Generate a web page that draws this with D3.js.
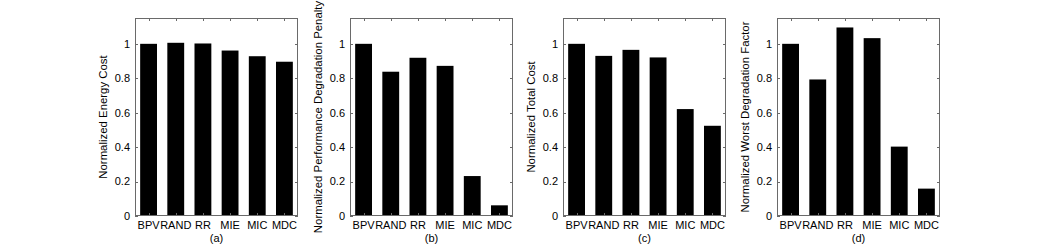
<!DOCTYPE html>
<html>
<head>
<meta charset="utf-8">
<script src="https://cdn.jsdelivr.net/npm/d3@7"></script>
<style>
    body { margin: 0; background: #fff; }
    svg text { font-family: "Liberation Sans", Arial, Helvetica, sans-serif; fill: #000; }
</style>
</head>
<body>
<svg id="chart" width="1038" height="247"></svg>
<script>
// Data
const categories = ["BPV", "RAND", "RR", "MIE", "MIC", "MDC"];
const energyCost = [1.0, 1.006, 1.002, 0.961, 0.928, 0.896];
const perfPenalty = [1.0, 0.838, 0.919, 0.872, 0.232, 0.062];
const totalCost = [1.0, 0.930, 0.965, 0.921, 0.621, 0.524];
const worstDegradation = [1.0, 0.793, 1.095, 1.033, 0.403, 0.159];
const yTicks = [0, 0.2, 0.4, 0.6, 0.8, 1];
const yLabels = [
    "Normalized Energy Cost",
    "Normalized Performance Degradation Penalty",
    "Normalized Total Cost",
    "Normalized Worst Degradation Factor"
];
const subLabels = ["(a)", "(b)", "(c)", "(d)"];

const panels = [energyCost, perfPenalty, totalCost, worstDegradation];
const panelLeft = [135, 350, 563, 777];

const svg = d3.select("#chart");
const boxW = 163;
const boxTop = 18, boxBottom = 216;
const axisColor = "#6a6a6a";

// Draw one MATLAB style bar panel
function drawPanel(i) {
    const data = panels[i];
    const left = panelLeft[i];
    const g = svg.append("g");

    const x = d3.scaleBand()
        .domain(categories)
        .range([left, left + boxW])
        .paddingInner(0.38)
        .paddingOuter(0.19);

    const y = d3.scaleLinear()
        .domain([0, 1.15])
        .range([boxBottom, boxTop]);

    // Bars
    g.selectAll(".bar")
        .data(data)
        .enter().append("rect")
        .attr("class", "bar")
        .attr("x", (d, j) => x(categories[j]))
        .attr("y", d => y(d))
        .attr("width", x.bandwidth())
        .attr("height", d => y(0) - y(d))
        .attr("fill", "#000");

    const centers = categories.map(c => x(c) + x.bandwidth() / 2);

    // Inward ticks on all four sides
    const ticks = g.append("g").attr("stroke", axisColor).attr("stroke-width", 1);
    yTicks.forEach(t => {
        const yy = Math.round(y(t)) + 0.5;
        ticks.append("line").attr("x1", left).attr("x2", left + 3).attr("y1", yy).attr("y2", yy);
        ticks.append("line").attr("x1", left + boxW - 3).attr("x2", left + boxW).attr("y1", yy).attr("y2", yy);
    });
    centers.forEach(cx => {
        const xx = Math.round(cx) + 0.5;
        ticks.append("line").attr("x1", xx).attr("x2", xx).attr("y1", boxTop).attr("y2", boxTop + 3);
        ticks.append("line").attr("x1", xx).attr("x2", xx).attr("y1", boxBottom - 3).attr("y2", boxBottom);
    });

    // Box
    g.append("rect")
        .attr("x", left + 0.5)
        .attr("y", boxTop + 0.5)
        .attr("width", boxW - 1)
        .attr("height", boxBottom - boxTop - 1)
        .attr("fill", "none")
        .attr("stroke", axisColor)
        .attr("stroke-width", 1);

    // Y tick labels
    g.selectAll(".ytl")
        .data(yTicks)
        .enter().append("text")
        .attr("x", left - 5)
        .attr("y", d => y(d))
        .attr("dy", "0.35em")
        .attr("text-anchor", "end")
        .attr("font-size", "11px")
        .text(d => d3.format("~g")(d));

    // X tick labels
    g.selectAll(".xtl")
        .data(categories)
        .enter().append("text")
        .attr("x", (d, j) => centers[j])
        .attr("y", 229)
        .attr("text-anchor", "middle")
        .attr("font-size", "11px")
        .text(d => d);

    // Sub caption
    g.append("text")
        .attr("x", left + boxW / 2)
        .attr("y", 242)
        .attr("text-anchor", "middle")
        .attr("font-size", "11px")
        .text(subLabels[i]);

    // Y axis label
    g.append("text")
        .attr("transform", `translate(${left - 28}, ${(boxTop + boxBottom) / 2}) rotate(-90)`)
        .attr("text-anchor", "middle")
        .attr("font-size", "11.4px")
        .text(yLabels[i]);
}

panels.forEach((_, i) => drawPanel(i));
</script>
</body>
</html>
